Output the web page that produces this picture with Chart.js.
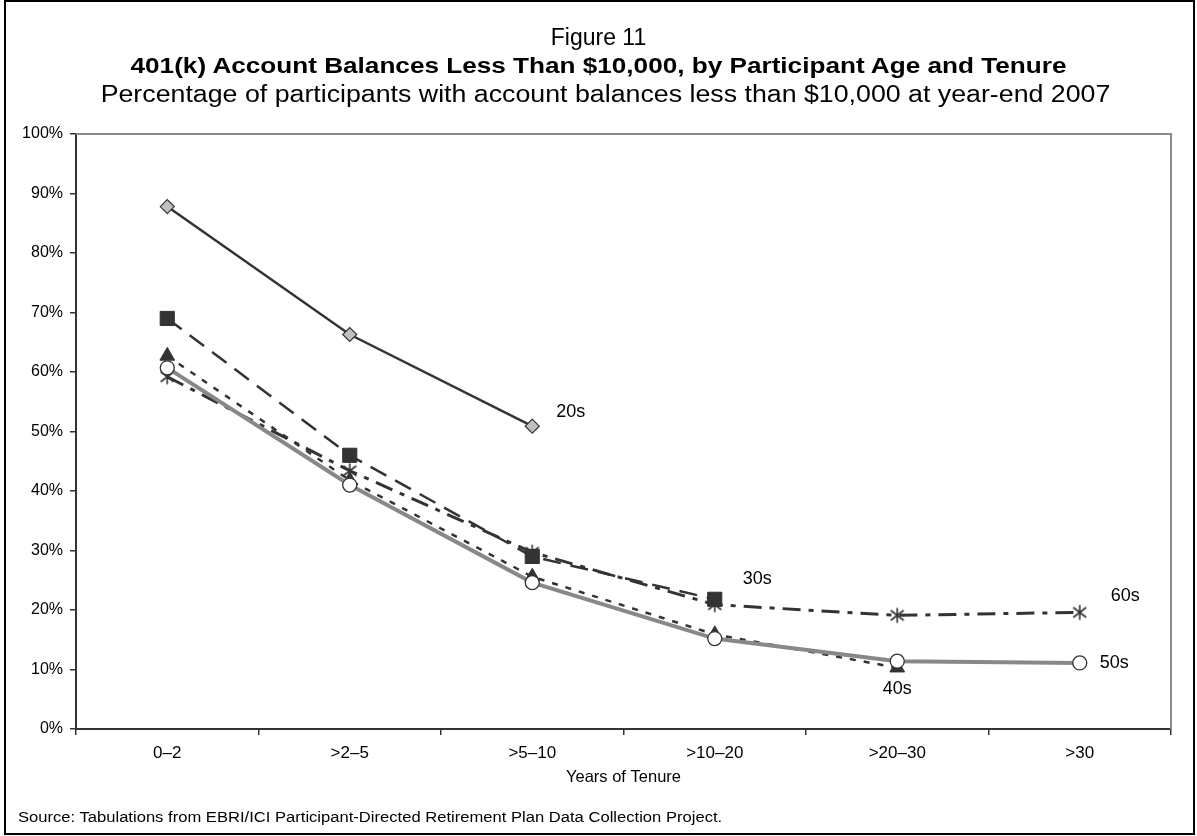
<!DOCTYPE html>
<html>
<head>
<meta charset="utf-8">
<script src="https://cdn.jsdelivr.net/npm/chart.js@4.4.1/dist/chart.umd.min.js"></script>
<style>
  html, body { margin: 0; padding: 0; background: #fff; }
  body { width: 1197px; height: 836px; position: relative; overflow: hidden; font-family: Arial, "Liberation Sans", sans-serif; color: #000; }
  #frame { position: absolute; left: 4px; top: 0; width: 1191px; height: 835px; box-sizing: border-box; border: 2px solid #000; }
  .t { position: absolute; left: 0; width: 1197px; text-align: center; white-space: nowrap; line-height: 26px; }
  #fig { top: 24px; font-size: 23px; }
  #head { top: 53px; font-size: 22px; font-weight: bold; transform: scaleX(1.188); }
  #sub { top: 81px; font-size: 23px; transform: translateX(7px) scaleX(1.163); }
  #src { position: absolute; left: 18px; top: 809px; font-size: 14px; line-height: 16px; white-space: nowrap; transform: scaleX(1.185); transform-origin: 0 50%; }
  #wrap { position: absolute; left: 0; top: 0; width: 1197px; height: 836px; }
</style>
</head>
<body>
<div id="frame"></div>
<div id="wrap"><canvas id="tenureChart"></canvas></div>
<div class="t" id="fig">Figure 11</div>
<div class="t" id="head">401(k) Account Balances Less Than $10,000, by Participant Age and Tenure</div>
<div class="t" id="sub">Percentage of participants with account balances less than $10,000 at year-end 2007</div>
<div id="src">Source: Tabulations from EBRI/ICI Participant-Directed Retirement Plan Data Collection Project.</div>
<script>
const tenure = ["0–2", ">2–5", ">5–10", ">10–20", ">20–30", ">30"];
const yTicks = [0, 10, 20, 30, 40, 50, 60, 70, 80, 90, 100];

const age20s = [87.8, 66.3, 50.9, null, null, null];
const age30s = [69.0, 46.0, 29.0, 21.8, null, null];
const age40s = [62.7, 41.8, 25.6, 15.9, 10.3, null];
const age50s = [60.7, 41.0, 24.6, 15.2, 11.4, 11.1];
const age60s = [59.2, 43.4, 29.7, 20.9, 19.1, 19.6];

const seriesNames = ["20s", "30s", "40s", "50s", "60s"];

const dark = "#333333";
const font = "Arial, 'Liberation Sans', sans-serif";

// excel style asterisk marker
function starMarker() {
  const c = document.createElement("canvas");
  c.width = 18;
  c.height = 18;
  const g = c.getContext("2d");
  g.strokeStyle = dark;
  g.lineWidth = 1.6;
  g.beginPath();
  g.moveTo(9, 1.5); g.lineTo(9, 16.5);
  g.moveTo(2.5, 4); g.lineTo(15.5, 14);
  g.moveTo(15.5, 4); g.lineTo(2.5, 14);
  g.stroke();
  return c;
}

// end-of-line labels, offset from the point they name
const endLabels = [
  { ds: 0, idx: 2, dx: 24, dy: -14, align: "left" },
  { ds: 1, idx: 3, dx: 28, dy: -20, align: "left" },
  { ds: 2, idx: 4, dx: 0, dy: 21, align: "center" },
  { ds: 3, idx: 5, dx: 20, dy: 0, align: "left" },
  { ds: 4, idx: 5, dx: 31, dy: -16, align: "left" }
];

const plotFrame = {
  id: "plotFrame",
  beforeDatasetsDraw(chart) {
    const { ctx, chartArea: a } = chart;
    ctx.save();
    ctx.strokeStyle = "#8c8c8c";
    ctx.lineWidth = 2;
    ctx.beginPath();
    ctx.moveTo(a.left, a.top);
    ctx.lineTo(a.right, a.top);
    ctx.lineTo(a.right, a.bottom);
    ctx.stroke();
    ctx.restore();
  }
};

const seriesLabels = {
  id: "seriesLabels",
  afterDatasetsDraw(chart) {
    const { ctx } = chart;
    ctx.save();
    ctx.font = "18px " + font;
    ctx.fillStyle = "#000";
    ctx.textBaseline = "middle";
    for (const l of endLabels) {
      const pt = chart.getDatasetMeta(l.ds).data[l.idx];
      ctx.textAlign = l.align;
      ctx.fillText(seriesNames[l.ds], pt.x + l.dx, pt.y + l.dy);
    }
    ctx.restore();
  }
};

new Chart(document.getElementById("tenureChart"), {
  type: "line",
  data: {
    labels: tenure,
    datasets: [
      {
        label: seriesNames[0], data: age20s, order: 0,
        borderColor: dark, borderWidth: 2.5,
        pointStyle: "rectRot", pointRadius: 7,
        pointBackgroundColor: "#c0c0c0", pointBorderColor: dark, pointBorderWidth: 1.2
      },
      {
        label: seriesNames[1], data: age30s, order: 1,
        borderColor: dark, borderWidth: 2.5, borderDash: [18, 10],
        pointStyle: "rect", pointRadius: 10,
        pointBackgroundColor: dark, pointBorderColor: dark, pointBorderWidth: 1
      },
      {
        label: seriesNames[2], data: age40s, order: 3,
        borderColor: dark, borderWidth: 2.5, borderDash: [6, 8],
        pointStyle: "triangle", pointRadius: 8.5,
        pointBackgroundColor: dark, pointBorderColor: dark, pointBorderWidth: 1
      },
      {
        label: seriesNames[3], data: age50s, order: 2,
        borderColor: "#888888", borderWidth: 4,
        pointStyle: "circle", pointRadius: 7,
        pointBackgroundColor: "#ffffff", pointBorderColor: dark, pointBorderWidth: 1.3
      },
      {
        label: seriesNames[4], data: age60s, order: 4,
        borderColor: dark, borderWidth: 3, borderDash: [18, 8, 5, 8],
        pointStyle: starMarker(), pointRadius: 9,
        pointBackgroundColor: dark, pointBorderColor: dark
      }
    ]
  },
  options: {
    responsive: true,
    maintainAspectRatio: false,
    animation: false,
    layout: { padding: { left: 0, right: 26, top: 134, bottom: 49 } },
    plugins: { legend: { display: false }, tooltip: { enabled: false } },
    elements: { line: { tension: 0, borderCapStyle: "butt" } },
    scales: {
      x: {
        offset: true,
        grid: { offset: true, drawOnChartArea: false, drawTicks: true, tickLength: 6, color: dark, lineWidth: 1.5 },
        border: { display: true, color: dark, width: 2 },
        ticks: { color: "#000", font: { family: font, size: 17 }, padding: 8, maxRotation: 0 },
        title: { display: true, text: "Years of Tenure", color: "#000", font: { family: font, size: 16.5 }, padding: { top: 0, bottom: 0 } },
        afterFit(scale) { scale.height = 58; }
      },
      y: {
        min: 0,
        max: 100,
        afterBuildTicks(scale) { scale.ticks = yTicks.map((v) => ({ value: v })); },
        grid: { drawOnChartArea: false, drawTicks: true, tickLength: 6, color: dark, lineWidth: 1.5 },
        border: { display: true, color: dark, width: 2 },
        ticks: { color: "#000", font: { family: font, size: 16 }, padding: 7, callback: (v) => v + "%" },
        afterFit(scale) { scale.width = 76; }
      }
    }
  },
  plugins: [plotFrame, seriesLabels]
});
</script>
</body>
</html>
